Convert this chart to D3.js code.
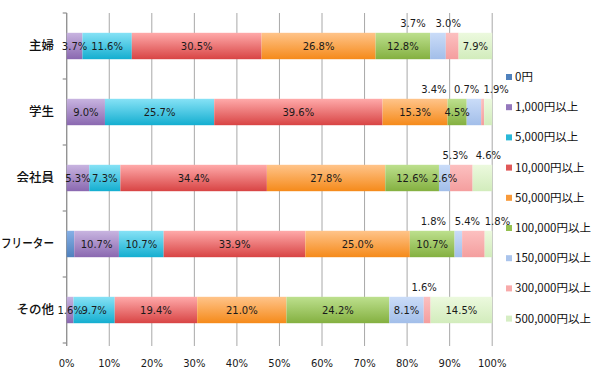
<!DOCTYPE html>
<html><head><meta charset="utf-8">
<script src="https://cdn.jsdelivr.net/npm/d3@7"></script>
<style>
html,body{margin:0;padding:0;background:#fff;}
svg{display:block;}
</style></head>
<body><svg id="chart" width="600" height="372"></svg>
<script>
// ---- data ----
const categories = ["主婦", "学生", "会社員", "フリーター", "その他"];
const seriesNames = ["0円", "1,000円以上", "5,000円以上", "10,000円以上", "50,000円以上",
  "100,000円以上", "150,000円以上", "300,000円以上", "500,000円以上"];
// one array per series, in category order
const s0 = [0, 0, 0, 1.8, 0];
const s1000 = [3.7, 9.0, 5.3, 10.7, 1.6];
const s5000 = [11.6, 25.7, 7.3, 10.7, 9.7];
const s10000 = [30.5, 39.6, 34.4, 33.9, 19.4];
const s50000 = [26.8, 15.3, 27.8, 25.0, 21.0];
const s100000 = [12.8, 4.5, 12.6, 10.7, 24.2];
const s150000 = [3.7, 3.4, 2.6, 1.8, 8.1];
const s300000 = [3.0, 0.7, 5.3, 5.4, 1.6];
const s500000 = [7.9, 1.9, 4.6, 1.8, 14.5];
const seriesValues = [s0, s1000, s5000, s10000, s50000, s100000, s150000, s300000, s500000];
const xTicks = [0, 0.1, 0.2, 0.3, 0.4, 0.5, 0.6, 0.7, 0.8, 0.9, 1.0];

// ---- styles ----
const colorsTop = ["#86b0e6", "#c8b4e0", "#86e2f6", "#ffaaaa", "#ffc48a", "#bde08e", "#cadcf8", "#fcc0c0", "#ecf9de"];
const colorsBot = ["#4f81bd", "#8a68b0", "#14aed0", "#d84444", "#f58a1a", "#84b040", "#a2bee9", "#f49e9e", "#d2ecbc"];
const legendColors = ["#4f81bd", "#9478bc", "#2ab8d8", "#e05858", "#f89a3a", "#94c050", "#aac4ec", "#f8aaaa", "#d6eec4"];
// labels drawn above bar for small segments: [categoryIndex, seriesIndex, dx]
const aboveLabels = [
  [0, 6, -25], [0, 7, -4],
  [1, 6, -40], [1, 7, -16], [1, 8, 8],
  [2, 7, -6], [2, 8, 6],
  [3, 6, -25], [3, 7, -6], [3, 8, 9],
  [4, 7, -3]
];

const svg = d3.select("#chart");
const mLeft = 66.7, mRight = 492.2, mTop = 13, mBottom = 343;

const x = d3.scaleLinear().domain([0, 1]).range([mLeft, mRight]);
const y = d3.scaleBand().domain(categories).range([mTop, mBottom]).paddingInner(0.6).paddingOuter(0.3);

// table for stack
const rows = categories.map((c, i) => {
  const r = { cat: c };
  seriesNames.forEach((s, j) => r[s] = seriesValues[j][i]);
  return r;
});
const stack = d3.stack().keys(seriesNames).offset(d3.stackOffsetExpand);
const layers = stack(rows);

// gradients
const defs = svg.append("defs");
seriesNames.forEach((s, j) => {
  const g = defs.append("linearGradient").attr("id", "g" + j)
    .attr("x1", 0).attr("y1", 0).attr("x2", 0).attr("y2", 1);
  g.append("stop").attr("offset", "0%").attr("stop-color", colorsTop[j]);
  g.append("stop").attr("offset", "100%").attr("stop-color", colorsBot[j]);
});

// grid lines
svg.append("g").selectAll("line").data(xTicks).join("line")
  .attr("x1", d => x(d)).attr("x2", d => x(d))
  .attr("y1", mTop).attr("y2", mBottom + 3)
  .attr("stroke", "#a8a8a8").attr("stroke-width", 1);

// left axis line + category ticks
svg.append("line").attr("x1", mLeft).attr("x2", mLeft).attr("y1", mTop).attr("y2", mBottom + 3)
  .attr("stroke", "#909090").attr("stroke-width", 1.2);
const tickYs = d3.range(categories.length + 1).map(i => mTop + i * (mBottom - mTop) / categories.length);
svg.append("g").selectAll("line").data(tickYs).join("line")
  .attr("x1", mLeft - 4).attr("x2", mLeft).attr("y1", d => d).attr("y2", d => d)
  .attr("stroke", "#909090").attr("stroke-width", 1.2);

// bars
const gBars = svg.append("g");
layers.forEach((layer, j) => {
  gBars.append("g").attr("fill", `url(#g${j})`).selectAll("rect").data(layer).join("rect")
    .attr("x", d => x(d[0])).attr("width", d => Math.max(0, x(d[1]) - x(d[0])))
    .attr("y", d => y(d.data.cat)).attr("height", y.bandwidth());
});

// labels
const fontLbl = "'DejaVu Sans', Verdana, sans-serif";
const aboveSet = new Map(aboveLabels.map(a => [a[0] + "_" + a[1], a[2]]));
const gLbl = svg.append("g").attr("font-family", fontLbl).attr("font-size", 10).attr("fill", "#1a1a1a")
  .attr("text-anchor", "middle");
layers.forEach((layer, j) => {
  layer.forEach((d, i) => {
    const v = seriesValues[j][i];
    if (j === 0) return; // 0円 labels not shown
    if (v <= 0) return;
    const cx = (x(d[0]) + x(d[1])) / 2;
    const key = i + "_" + j;
    if (aboveSet.has(key)) {
      gLbl.append("text").attr("x", cx + aboveSet.get(key))
        .attr("y", y(d.data.cat) - 9).attr("dy", "0.35em").text(v.toFixed(1) + "%");
    } else {
      gLbl.append("text").attr("x", cx)
        .attr("y", y(d.data.cat) + y.bandwidth() / 2).attr("dy", "0.35em").text(v.toFixed(1) + "%");
    }
  });
});

// category labels
svg.append("g").attr("font-family", "'Noto Sans CJK JP', sans-serif").attr("font-size", 12.5)
  .attr("font-weight", 500).attr("fill", "#111").attr("text-anchor", "end")
  .selectAll("text").data(categories).join("text")
  .attr("x", 54).attr("y", d => y(d) + y.bandwidth() / 2).attr("dy", "0.35em").text(d => d)
  .each(function () {
    const w = this.getComputedTextLength();
    if (w > 53) d3.select(this).attr("textLength", 53).attr("lengthAdjust", "spacingAndGlyphs");
  });

// x tick labels
svg.append("g").attr("font-family", fontLbl).attr("font-size", 10).attr("fill", "#1a1a1a")
  .attr("text-anchor", "middle")
  .selectAll("text").data(xTicks).join("text")
  .attr("x", d => x(d)).attr("y", 363).attr("dy", "0.35em").text(d => d3.format(".0%")(d));

// legend
const lg = svg.append("g").attr("font-family", "'Noto Sans CJK JP', sans-serif").attr("font-size", 11.5).attr("fill", "#111");
seriesNames.forEach((s, j) => {
  const yy = 77 + j * 30.2;
  lg.append("rect").attr("x", 506).attr("y", yy - 3).attr("width", 6).attr("height", 6).attr("fill", legendColors[j]);
  lg.append("text").attr("x", 515).attr("y", yy).attr("dy", "0.35em").text(s);
});
</script></body></html>
